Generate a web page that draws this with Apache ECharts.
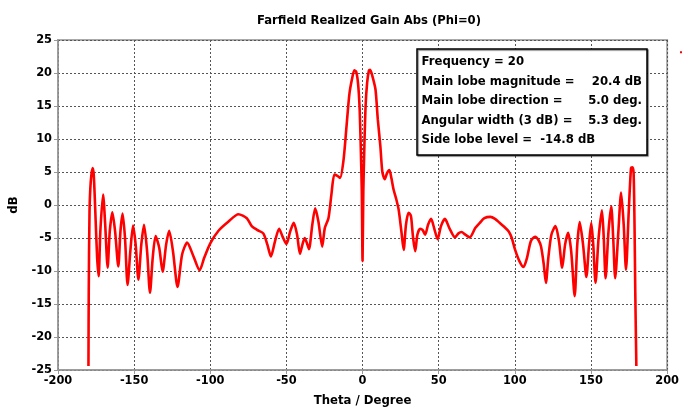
<!DOCTYPE html>
<html>
<head>
<meta charset="utf-8">
<script src="https://cdn.jsdelivr.net/npm/echarts@6/dist/echarts.min.js"></script>
<style>html,body{margin:0;padding:0;background:#fff}#c{width:682px;height:413px}</style>
</head>
<body>
<div id="c"></div>
<script>
const titleText = 'Farfield Realized Gain Abs (Phi=0)';
const xName = 'Theta / Degree';
const yName = 'dB';
const xTicks = [-200, -150, -100, -50, 0, 50, 100, 150, 200];
const yTicks = [-25, -20, -15, -10, -5, 0, 5, 10, 15, 20, 25];

const theta = [
-180,-179.8,-179.3,-178.5,-177.3,-176.5,-175.5,-174.3,-173.3,-172.2,-170.4,-169,-167.4,-166,-164.3,-162.5,-160.4,-159,-157.6,-156,-154.3,-152.5,-150.7,-149,-147.2,-145.3,-143.5,-141.5,-139.6,-137.8,-135.9,-133.5,-131.3,-129,-127,-124.5,-121.5,-118.5,-115.2,-111,-107,-104,-100,-94.6,-88,-81.5,-76,-72.8,-69,-65.2,-62.5,-60.2,-57.5,-54.8,-52.5,-50,-47.5,-45.2,-43,-41.1,-39.5,-38,-36.5,-35.2,-33,-31.1,-29,-26.5,-24.8,-22.4,-20.5,-18.5,-16.5,-14.8,-12.6,-10.5,-8.7,-7,-5.4,-4.2,-3,-2,-1.2,-0.5,0,0.5,1.2,2,3,4.2,5,6.5,8.5,10,11.7,13,14.6,16,17.6,19,20.4,22,23.7,25.5,27,28.5,30.2,31.5,32,33.2,34.6,36,37.8,39.5,41.1,43,45,47,49.3,51.5,54.1,57,60.7,63,65,67.5,70.4,74,77,80,83.9,87,90,93,96,98,100.2,103,105.7,108,110.5,113.3,115.5,117.2,119,120.4,122,124,126.7,129,131.1,133,135,137,139.3,141,142.6,144.8,147,148.7,150.2,151.5,153,155,157.2,158.4,159.6,161.5,163.3,164.6,165.9,168,169.8,171.5,173,174.8,176.3,177.2,178,178.6,179.1,179.8
];
const gain = [
-24.4,-12.8,-1,3.5,5.6,4.5,-1,-8,-10.8,-4,1.6,-3,-9.5,-4,-1.1,-4,-9.3,-4,-1.3,-5,-12.1,-7,-3.1,-6,-11.3,-6,-3.0,-7,-13.3,-8,-4.7,-6.5,-10.1,-6,-3.9,-7,-12.4,-7.5,-5.7,-7.8,-9.9,-8,-5.8,-3.9,-2.5,-1.4,-2.0,-3.2,-3.8,-4.3,-6,-7.8,-5.5,-3.6,-4.8,-5.9,-4,-2.7,-4.5,-7.4,-6,-5,-5.8,-6.7,-3,-0.5,-2.5,-6.3,-3.5,-2.0,1.5,4.6,4.4,4.1,6.6,12,16.7,19,20.4,20.2,18.5,15,9,2,-8.5,2,9,15,18.5,20.4,20.5,19.5,17.5,13,8.9,5,3.9,4.8,5.3,4,2.3,1,-0.7,-4,-6.8,-3,-1.2,-1.5,-2.0,-5,-7.0,-4.5,-3.6,-3.8,-4.5,-3,-2.1,-3.5,-5.2,-3.2,-2.1,-3.5,-4.9,-4.3,-4.1,-4.5,-4.9,-3.5,-2.7,-2.0,-1.8,-2.1,-2.7,-3.3,-4.0,-5,-6.8,-8.5,-9.4,-8,-5.5,-4.8,-5.3,-6.3,-9,-11.8,-8,-4.5,-3.2,-5.5,-9.5,-6,-4.2,-7,-13.8,-6,-2.6,-6,-10.9,-6,-2.7,-6,-11.8,-5,-0.8,-5,-11.1,-4,-0.2,-5,-11.1,-4,1.9,-3,-9.8,-1,5.6,5.7,4.8,-3,-13.3,-24.4
];

const infoLabels = ['Frequency = 20', 'Main lobe magnitude =', 'Main lobe direction =', 'Angular width (3 dB) =', 'Side lobe level =  -14.8 dB'];
const infoValues = ['', '20.4 dB', '5.0 deg.', '5.3 deg.', ''];

const chart = echarts.init(document.getElementById('c'), null, {renderer: 'canvas'});
const FONT = 'DejaVu Sans';
const FS = 11.7;
const boxX = 417, boxY = 49, boxW = 230, boxH = 106;
const graphics = [{
  type: 'rect', shape: {x: boxX, y: boxY, width: boxW, height: boxH},
  style: {fill: '#fff', stroke: '#000', lineWidth: 1.5, shadowColor: 'rgba(0,0,0,0.5)', shadowOffsetX: 1, shadowOffsetY: 1, shadowBlur: 1}, z: 100
}];
infoLabels.forEach((t, i) => {
  graphics.push({type: 'text', x: boxX + 4.5, y: boxY + 13 + i * 19.6, z: 101,
    style: {text: t, font: 'bold ' + FS + 'px ' + FONT, fill: '#000', verticalAlign: 'middle', align: 'left'}});
  if (infoValues[i]) {
    graphics.push({type: 'text', x: boxX + boxW - 5, y: boxY + 13 + i * 19.6, z: 101,
      style: {text: infoValues[i], font: 'bold ' + FS + 'px ' + FONT, fill: '#000', verticalAlign: 'middle', align: 'right'}});
  }
});

const axisGray = '#999';
chart.setOption({
  animation: false,
  backgroundColor: '#fff',
  title: {text: titleText, left: 364, top: 10, textAlign: 'center',
    textStyle: {fontFamily: FONT, fontWeight: 'bold', fontSize: 11.6, color: '#000'}},
  legend: {show: true, left: 674, top: 45, itemWidth: 18, itemHeight: 3, data: ['gain'],
    textStyle: {color: '#fff', fontSize: 1}},
  grid: {left: 58, right: 12, top: 40, bottom: 43, show: true, borderColor: '#aaa', borderWidth: 2},
  xAxis: {
    type: 'value', min: xTicks[0], max: xTicks[xTicks.length - 1], interval: 50,
    name: xName, nameLocation: 'middle', nameGap: 25,
    nameTextStyle: {fontFamily: FONT, fontWeight: 'bold', fontSize: FS, color: '#000'},
    axisLine: {onZero: false, lineStyle: {color: axisGray, width: 1.5}},
    axisTick: {show: true, inside: false, length: 4, lineStyle: {color: axisGray}},
    axisLabel: {fontFamily: FONT, fontWeight: 'bold', fontSize: 11.4, color: '#000', margin: 6},
    splitLine: {show: true, lineStyle: {color: '#555', type: [2, 2], width: 1}}
  },
  yAxis: {
    type: 'value', min: yTicks[0], max: yTicks[yTicks.length - 1], interval: 5,
    name: yName, nameLocation: 'middle', nameGap: 38, nameRotate: 90,
    nameTextStyle: {fontFamily: FONT, fontWeight: 'bold', fontSize: FS, color: '#000'},
    axisLine: {show: true, onZero: false, lineStyle: {color: axisGray, width: 1.5}},
    axisTick: {show: true, inside: false, length: 4, lineStyle: {color: axisGray}},
    axisLabel: {fontFamily: FONT, fontWeight: 'bold', fontSize: 11.4, color: '#000', margin: 6},
    splitLine: {show: true, lineStyle: {color: '#555', type: [2, 2], width: 1}}
  },
  series: [{
    name: 'gain', type: 'line', showSymbol: false, smooth: 0.25,
    data: theta.map((t, i) => [t, gain[i]]),
    lineStyle: {color: '#ff0000', width: 2.6}, itemStyle: {color: '#ff0000'},
    clip: true
  }],
  graphic: graphics
});
</script>
</body>
</html>
